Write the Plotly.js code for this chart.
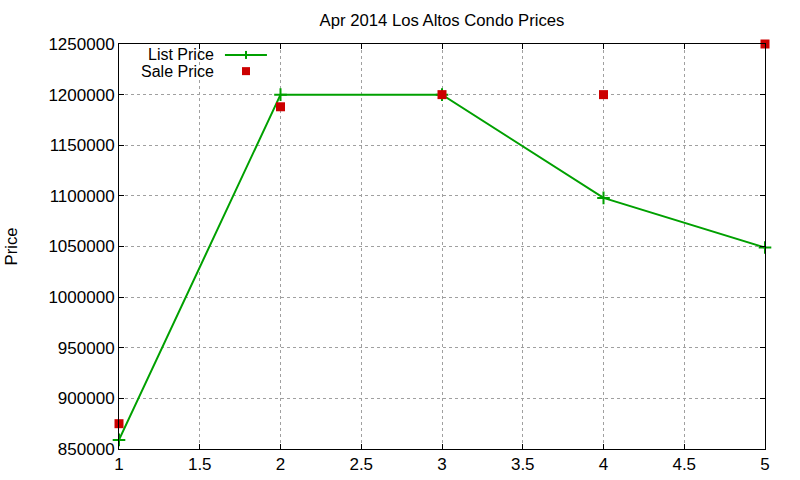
<!DOCTYPE html>
<html>
<head>
<meta charset="utf-8">
<script src="https://cdn.plot.ly/plotly-3.0.1.min.js"></script>
<style>
  html, body { margin: 0; padding: 0; background: #fff; }
  #chart { width: 800px; height: 480px; }
</style>
</head>
<body>
<div id="chart"></div>
<script>
// month index of the sales
var months = [1, 2, 3, 4, 5];
var listPrice = [859000, 1200000, 1200000, 1098000, 1049000];
var salePrice = [875000, 1188000, 1200000, 1200000, 1250000];
var seriesNames = ['List Price', 'Sale Price'];

var fontFamily = '"Liberation Sans", Arial, sans-serif';
var green = '#00a000';
var red = '#cc0000';

var data = [
    {
        x: months,
        y: listPrice,
        name: seriesNames[0],
        type: 'scatter',
        mode: 'lines+markers',
        line: {color: green, width: 2},
        marker: {symbol: 'cross-thin-open', size: 9, line: {color: green, width: 2}},
        cliponaxis: false
    },
    {
        x: months,
        y: salePrice,
        name: seriesNames[1],
        type: 'scatter',
        mode: 'markers',
        marker: {symbol: 'square', size: 9, color: red},
        cliponaxis: false
    }
];

// gnuplot style key: text right aligned, sample on its right
var keyTextX = 0.150;
var keySampleX0 = 0.164, keySampleX1 = 0.229, keyMarkX = 0.1966;
var keyRows = [0.973, 0.933];
var px = 1 / 646, py = 1 / 405;

var annotations = seriesNames.map(function (name, i) {
    return {
        text: name,
        xref: 'paper', yref: 'paper',
        x: keyTextX, y: keyRows[i],
        xanchor: 'right', yanchor: 'middle',
        showarrow: false,
        font: {size: 16}
    };
});

var shapes = [
    {
        type: 'line', xref: 'paper', yref: 'paper',
        x0: keySampleX0, x1: keySampleX1, y0: keyRows[0], y1: keyRows[0],
        line: {color: green, width: 2}
    },
    {
        type: 'line', xref: 'paper', yref: 'paper',
        x0: keyMarkX, x1: keyMarkX, y0: keyRows[0] - 4 * py, y1: keyRows[0] + 4 * py,
        line: {color: green, width: 2}
    },
    {
        type: 'rect', xref: 'paper', yref: 'paper',
        x0: keyMarkX - 4 * px, x1: keyMarkX + 4 * px,
        y0: keyRows[1] - 4 * py, y1: keyRows[1] + 4 * py,
        fillcolor: red, line: {width: 0}
    }
];

var axisStyle = {
    showline: true,
    linecolor: '#000',
    linewidth: 1,
    mirror: 'ticks',
    ticks: 'inside',
    ticklen: 5,
    tickcolor: '#000',
    showgrid: true,
    gridcolor: '#a0a0a0',
    griddash: 'dot',
    gridwidth: 1,
    zeroline: false,
    tickfont: {size: 17}
};

var layout = {
    width: 800,
    height: 480,
    paper_bgcolor: '#fff',
    plot_bgcolor: '#fff',
    font: {family: fontFamily, size: 16, color: '#000'},
    margin: {l: 119, r: 35, t: 44, b: 31, pad: 0},
    title: {
        text: 'Apr 2014 Los Altos Condo Prices',
        font: {size: 16.7},
        x: 0.5,
        xref: 'paper',
        y: 0.958,
        yanchor: 'middle'
    },
    showlegend: false,
    annotations: annotations,
    shapes: shapes,
    xaxis: Object.assign({range: [1, 5], dtick: 0.5, tick0: 1}, axisStyle),
    yaxis: Object.assign({
        range: [850000, 1250000],
        dtick: 50000,
        tick0: 850000,
        tickformat: 'd',
        title: {text: 'Price', font: {size: 16.7}, standoff: 26}
    }, axisStyle)
};

Plotly.newPlot('chart', data, layout, {displayModeBar: false, staticPlot: true});
</script>
</body>
</html>
